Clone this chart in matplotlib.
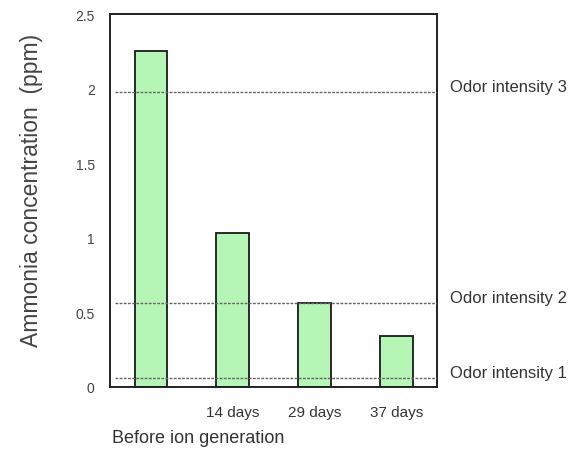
import matplotlib
matplotlib.use("Agg")
import matplotlib.pyplot as plt

plt.rcParams['font.family'] = ['Liberation Sans', 'DejaVu Sans']

categories = ['Before ion generation', '14 days', '29 days', '37 days']
ammonia_ppm = [2.25, 1.03, 0.56, 0.34]
odor_levels = [1.98, 0.56, 0.06]
odor_labels = ['Odor intensity 3', 'Odor intensity 2', 'Odor intensity 1']
y_ticks = [0, 0.5, 1, 1.5, 2, 2.5]
y_tick_labels = ['0', '0.5', '1', '1.5', '2', '2.5']

fig = plt.figure(figsize=(5.79, 4.52), dpi=100)
ax = fig.add_axes([0.19, 0.1416, 0.565, 0.825])

x = list(range(len(categories)))
ax.bar(x, ammonia_ppm, width=0.4, color='#b5f5b5', edgecolor='#1a1a1a', linewidth=1.3, zorder=2)

# threshold lines
for lvl, lab in zip(odor_levels, odor_labels):
    ax.axhline(lvl, xmin=0.015, xmax=1, color='#666666', linestyle=(0, (2, 1)), linewidth=1.0, zorder=3)
    ax.annotate(lab, xy=(1.0, lvl), xycoords=('axes fraction', 'data'),
                xytext=(9, 4), textcoords='offset points', ha='left', va='center',
                fontsize=12, color='#333333')

ax.set_xlim(-0.5, 3.5)
ax.set_ylim(0, 2.5)
ax.set_yticks(y_ticks)
ax.set_yticklabels(y_tick_labels, fontsize=10, color='#444444')
ax.tick_params(axis='y', length=0, pad=11)
ax.set_xticks(x[1:])
ax.set_xticklabels(categories[1:], fontsize=11, color='#333333')
ax.tick_params(axis='x', length=0, pad=13)

ax.annotate(categories[0], xy=(0, 0), xycoords=('data', 'axes fraction'),
            xytext=(-28, -30), textcoords='offset points', ha='left', va='top',
            fontsize=13, color='#333333')

for s in ax.spines.values():
    s.set_linewidth(1.4)
    s.set_color('#222222')

ax.set_ylabel('Ammonia concentration  (ppm)', fontsize=16.5, color='#444444')
ax.yaxis.set_label_coords(-0.205, 0.53)

fig.savefig('out.png', dpi=100)
